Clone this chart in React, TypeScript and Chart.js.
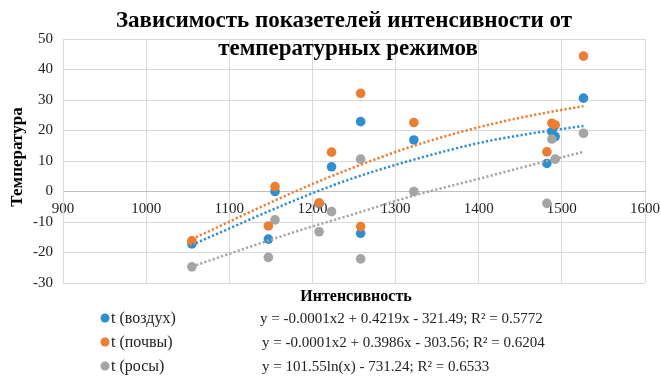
import React, { useEffect, useRef } from "react";
import { Chart, registerables } from "chart.js";

Chart.register(...registerables);

const intensity = [1055, 1147, 1155, 1208, 1223, 1258, 1258, 1322, 1482, 1488, 1492, 1526];
const tAir = [-17.2, -15.6, 0, -4.0, 8.1, 22.9, -13.7, 16.9, 9.2, 19.6, 18.0, 30.6];
const tSoil = [-16.2, -11.3, 1.6, -3.7, 12.9, 32.2, -11.5, 22.6, 13.0, 22.4, 21.8, 44.4];
const tDew = [-24.7, -21.6, -9.3, -13.2, -6.6, 10.6, -22.1, 0, -3.9, 17.2, 10.6, 19.1];

// trendline positions
const trendX = [1055, 1185, 1245, 1320, 1402, 1465, 1526];
const trendAir = [-17.5, -2.2, 4.0, 10.3, 16.0, 19.1, 21.5];
const trendSoil = [-15.6, 0.7, 7.4, 14.8, 21.2, 25.0, 28.0];
const trendDew = [-24.6, -12.7, -7.8, -1.5, 4.3, 8.8, 13.0];

const seriesNames = ["t (воздух)", "t (почвы)", "t (росы)"];
const equations = [
  "y = -0.0001x2 + 0.4219x - 321.49; R² = 0.5772",
  "y = -0.0001x2 + 0.3986x - 303.56; R² = 0.6204",
  "y = 101.55ln(x) - 731.24; R² = 0.6533",
];
const titleLines = ["Зависимость показетелей интенсивности от", "температурных режимов"];
const xTitle = "Интенсивность";
const yTitle = "Температура";

const colors = ["#2E8FCF", "#ED7D31", "#A5A5A5"];
const SERIF = '"Liberation Serif", "Times New Roman", serif';

const pts = (xs: number[], ys: number[]) => xs.map((x, i) => ({ x, y: ys[i] }));

export default function App() {
  const ref = useRef<HTMLCanvasElement | null>(null);
  useEffect(() => {
    if (!ref.current) return;
    const textPlugin = {
      id: "texts",
      afterDraw(chart: any) {
        const ctx = chart.ctx;
        ctx.save();
        ctx.fillStyle = "#000";
        ctx.textAlign = "center";
        ctx.textBaseline = "middle";
        ctx.font = `bold 23px ${SERIF}`;
        ctx.fillText(titleLines[0], 344, 21);
        ctx.fillText(titleLines[1], 348, 49);
        ctx.font = `bold 16px ${SERIF}`;
        ctx.fillText(xTitle, 356, 297);
        ctx.save();
        ctx.translate(18, 157);
        ctx.rotate(-Math.PI / 2);
        ctx.font = `bold 17px ${SERIF}`;
        ctx.fillText(yTitle, 0, 0);
        ctx.restore();
        const rows = [318, 342, 366];
        const eqX = [260, 262, 262];
        rows.forEach((y, i) => {
          ctx.fillStyle = colors[i];
          ctx.beginPath();
          ctx.arc(105, y, 4.5, 0, Math.PI * 2);
          ctx.fill();
          ctx.fillStyle = "#222";
          ctx.textAlign = "left";
          ctx.font = `16px ${SERIF}`;
          ctx.fillText(seriesNames[i], 111, y + 1);
          ctx.font = `15px ${SERIF}`;
          ctx.fillText(equations[i], eqX[i], y + 1);
        });
        ctx.restore();
      },
    };
    const pointDs = (label: string, data: number[], c: string, order: number) => ({
      type: "scatter" as const,
      label,
      data: pts(intensity, data),
      backgroundColor: c,
      borderColor: c,
      borderWidth: 0,
      pointRadius: 4.8,
      order,
    });
    const trendDs = (data: number[], c: string) => ({
      type: "line" as const,
      data: pts(trendX, data),
      borderColor: c,
      borderWidth: 2.5,
      borderDash: [2.2, 2.2],
      pointRadius: 0,
      fill: false,
      tension: 0.4,
      cubicInterpolationMode: "monotone" as const,
      order: 0,
    });
    const chart = new Chart(ref.current, {
      type: "scatter",
      data: {
        datasets: [
          pointDs(seriesNames[0], tAir, colors[0], 3),
          pointDs(seriesNames[1], tSoil, colors[1], 2),
          pointDs(seriesNames[2], tDew, colors[2], 1),
          trendDs(trendAir, colors[0]),
          trendDs(trendSoil, colors[1]),
          trendDs(trendDew, colors[2]),
        ] as any,
      },
      options: {
        animation: false,
        responsive: false,
        devicePixelRatio: 1,
        layout: { padding: { top: 39, right: 16, bottom: 93, left: 0 } },
        plugins: { legend: { display: false }, tooltip: { enabled: false }, title: { display: false } },
        scales: {
          x: {
            type: "linear",
            position: { y: 0 } as any,
            min: 900,
            max: 1600,
            ticks: {
              stepSize: 100,
              padding: 9,
              color: "#222",
              font: { family: SERIF, size: 15 },
              maxRotation: 0,
              callback: (v: any) => String(v),
            },
            grid: { color: "#D9D9D9", lineWidth: 1, drawTicks: false },
            border: { color: "#BFBFBF", width: 1 },
            afterFit: (s: any) => { s.paddingRight = 0; s.paddingLeft = 0; },
          },
          y: {
            type: "linear",
            min: -30,
            max: 50,
            ticks: { stepSize: 10, padding: 10, color: "#222", font: { family: SERIF, size: 15 } },
            grid: { color: "#D9D9D9", lineWidth: 1, drawTicks: false },
            border: { color: "#D9D9D9", width: 1 },
            afterFit: (s: any) => { s.width = 63; },
          },
        },
      },
      plugins: [textPlugin],
    });
    return () => chart.destroy();
  }, []);
  return (
    <div style={{ position: "absolute", left: 0, top: 0, width: 661, height: 376, background: "#fff" }}>
      <canvas ref={ref} width={661} height={376} />
    </div>
  );
}
